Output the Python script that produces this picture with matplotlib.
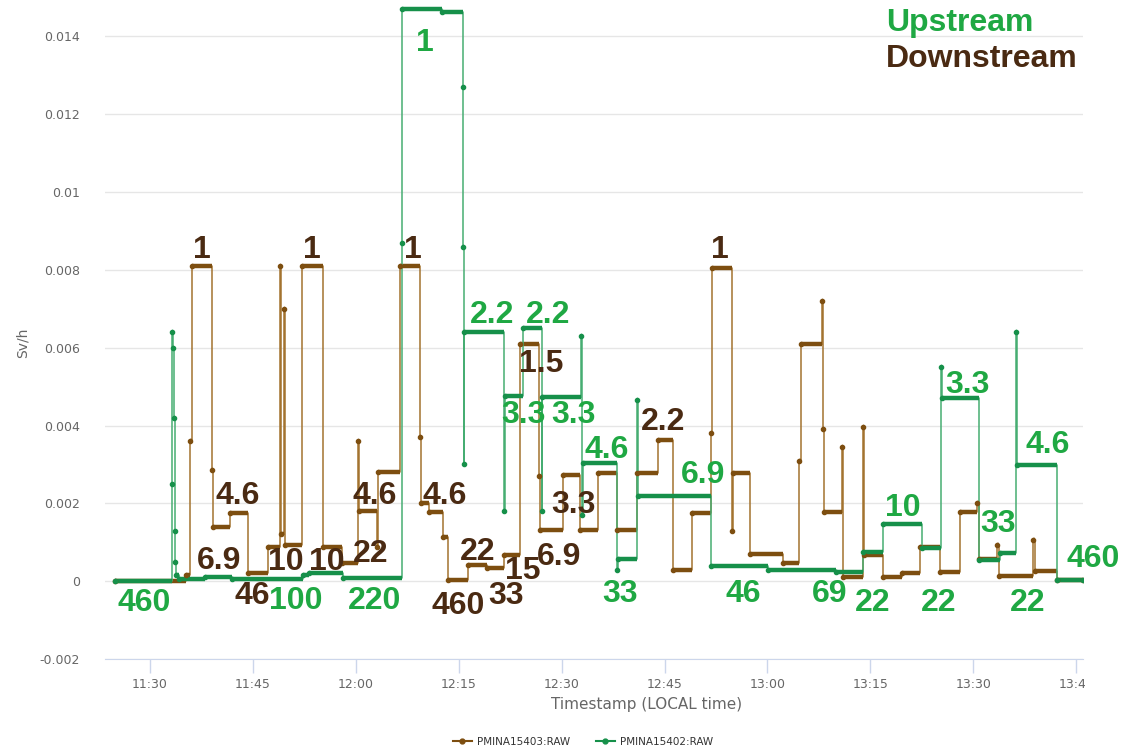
import pandas as pd
import matplotlib
matplotlib.use('Agg')
import matplotlib.pyplot as plt
import matplotlib.dates as mdates
from matplotlib.transforms import Bbox, TransformedBbox

# Time is kept as minutes after 11:30, values in Sv/h (step changes)
BASE = pd.Timestamp('2021-01-01 11:30')

down_min = [-5.1, 5.25, 5.9, 6.05, 9.04, 9.15, 11.66, 14.33, 17.25, 18.95, 19.1, 19.6, 19.75,
            22.16, 25.22, 27.95, 30.37, 30.5, 33.1, 33.2, 36.45, 39.36, 39.5, 40.6, 42.72, 43.45,
            46.36, 49.09, 51.61, 53.94, 56.76, 56.9, 60.26, 62.69, 65.36, 68.04, 70.96, 74.06,
            76.25, 79.02, 81.79, 81.95, 84.81, 84.95, 87.48, 92.33, 94.62, 94.9, 97.93, 98.1,
            98.3, 100.85, 101.0, 103.95, 104.1, 106.91, 109.64, 112.26, 115.18, 118.09, 120.6,
            120.9, 123.49, 123.7, 128.78, 128.95, 132.19, 136.03]
down_sv = [0.0, 0.00015, 0.0036, 0.0081, 0.00285, 0.0014, 0.00176, 0.00022, 0.00088, 0.0081,
           0.0012, 0.0070, 0.00093, 0.0081, 0.00088, 0.00047, 0.0036, 0.0018, 0.00087, 0.0028,
           0.0081, 0.0037, 0.0020, 0.00178, 0.00114, 0.00003, 0.00041, 0.00033, 0.00067, 0.0061,
           0.0027, 0.00131, 0.00272, 0.00131, 0.00278, 0.00131, 0.00278, 0.00362, 0.00028,
           0.00176, 0.0038, 0.00805, 0.0013, 0.00277, 0.00069, 0.00046, 0.0031, 0.0061, 0.0072,
           0.0039, 0.00178, 0.00345, 0.00011, 0.00397, 0.00067, 0.00011, 0.0002, 0.00088,
           0.00024, 0.00178, 0.0020, 0.00058, 0.00093, 0.00013, 0.00105, 0.00026, 0.00003,
           0.00003]

up_min = [-5.1, 3.2, 3.27, 3.4, 3.5, 3.58, 3.66, 3.8, 4.2, 8.0, 12.0, 22.3, 23.2, 28.1, 36.7,
          36.8, 42.5, 45.6, 45.65, 45.7, 45.8, 51.6, 51.7, 54.4, 57.1, 57.2, 62.8, 62.95,
          63.05, 68.1, 68.2, 71.0, 71.1, 81.75, 90.1, 100.0, 103.95, 106.9, 112.55, 115.3,
          115.45, 120.8, 123.9, 126.25, 126.4, 132.2, 136.0]
up_sv = [0.0, 0.0025, 0.0064, 0.006, 0.0042, 0.0013, 0.0005, 0.00015, 0.00006, 0.00011,
         0.00006, 0.00015, 0.00021, 0.00009, 0.0087, 0.0147, 0.01463, 0.0127, 0.0086,
         0.0030, 0.0064, 0.0018, 0.00476, 0.0065, 0.0018, 0.00474, 0.0063, 0.0017, 0.00303,
         0.00028, 0.00056, 0.00465, 0.0022, 0.0004, 0.00028, 0.00024, 0.00076, 0.00148,
         0.00085, 0.0055, 0.00472, 0.00054, 0.00072, 0.0064, 0.00298, 0.00003, 0.00003]

# dose-rate labels written on the chart: (text, minutes after 11:30, Sv/h)
down_labels = [('1', 7.6, 0.0085), ('1', 23.6, 0.0085), ('1', 38.3, 0.0085), ('1', 83.1, 0.0085),
               ('4.6', 12.8, 0.00218), ('6.9', 10.1, 0.00053), ('46', 14.9, -0.00039),
               ('10', 19.8, 0.00048), ('10', 25.8, 0.00048), ('22', 32.1, 0.00071),
               ('4.6', 32.8, 0.0022), ('4.6', 43.0, 0.00218), ('22', 47.8, 0.00074),
               ('460', 44.9, -0.00063), ('33', 51.9, -0.00039), ('15', 54.3, 0.00025),
               ('6.9', 59.7, 0.00063), ('3.3', 61.7, 0.00197), ('1.5', 57.0, 0.00557),
               ('2.2', 74.8, 0.0041)]
up_labels = [('460', -0.9, -0.00057), ('100', 21.2, -0.00052), ('220', 32.7, -0.00052),
             ('1', 40.1, 0.01382), ('2.2', 49.9, 0.00683), ('2.2', 58.0, 0.00683),
             ('3.3', 54.5, 0.00428), ('3.3', 61.8, 0.00428), ('4.6', 66.5, 0.00338),
             ('33', 68.5, -0.00032), ('6.9', 80.6, 0.00274), ('46', 86.5, -0.00034),
             ('69', 99.0, -0.00034), ('22', 105.3, -0.00057), ('10', 109.8, 0.00187),
             ('22', 114.9, -0.00057), ('3.3', 119.1, 0.00503), ('33', 123.6, 0.00148),
             ('4.6', 130.8, 0.00351), ('22', 128.0, -0.00057), ('460', 137.5, 0.00056)]

y_ticks = [-0.002, 0, 0.002, 0.004, 0.006, 0.008, 0.01, 0.012, 0.014]
y_tick_labels = ['-0.002', '0', '0.002', '0.004', '0.006', '0.008', '0.01', '0.012', '0.014']
x_tick_min = [0, 15, 30, 45, 60, 75, 90, 105, 120, 135]


def to_time(mins):
    return (BASE + pd.to_timedelta(mins, unit='min')).to_numpy()


fig = plt.figure(figsize=(11.44, 7.51), dpi=100)
ax = fig.add_axes([105 / 1144, 1 - 659 / 751, 978 / 1144, 659 / 751])

series = [
    ('PMINA15403:RAW', down_min, down_sv, '#a3732f', '#7d4e10'),
    ('PMINA15402:RAW', up_min, up_sv, '#46ad72', '#16904a'),
]
for name, mins, vals, thin_col, dark_col in series:
    t = to_time(mins)
    ax.plot(t, vals, drawstyle='steps-post', color=thin_col, lw=1.1, zorder=3)
    # the dense samples make every plateau look like a thick band
    ax.hlines(vals[:-1], t[:-1], t[1:], color=dark_col, lw=3.2, zorder=3)
    ax.plot(t, vals, 'o', color=dark_col, ms=3, zorder=4)
    ax.plot([], [], '-o', color=dark_col, lw=1.5, ms=3.5, label=name)

label_font = dict(fontsize=23, fontweight='bold', family='Liberation Sans')
for txt, m, v in down_labels:
    ax.text(to_time([m])[0], v, txt, color='#4a2a12', ha='center', va='center', zorder=5,
            **label_font)
for txt, m, v in up_labels:
    ax.text(to_time([m])[0], v, txt, color='#1fa843', ha='center', va='center', zorder=5,
            **label_font)

fig.text(886 / 1144, 1 - 23 / 751, 'Upstream', color='#1fa843', ha='left', va='center',
         **label_font)
fig.text(886 / 1144, 1 - 59 / 751, 'Downstream', color='#4a2a12', ha='left', va='center',
         **label_font)

ax.set_ylim(-0.002, 581 / 38900)
ax.set_xlim(to_time([-6.56])[0], to_time([136.0])[0])
ax.set_yticks(y_ticks)
ax.set_yticklabels(y_tick_labels)
ax.set_xticks(to_time(x_tick_min))
ax.xaxis.set_major_formatter(mdates.DateFormatter('%H:%M'))

ax.grid(axis='y', color='#e6e6e6', lw=1)
ax.set_axisbelow(True)
for side in ['top', 'right', 'left']:
    ax.spines[side].set_visible(False)
ax.spines['bottom'].set_color('#ccd6eb')
ax.tick_params(axis='y', length=0, pad=18, labelsize=9, labelcolor='#666666')
ax.tick_params(axis='x', length=10, width=1, color='#ccd6eb', pad=4, labelsize=9,
               labelcolor='#666666')

ax.set_ylabel('Sv/h', fontsize=10, color='#666666')
ax.yaxis.set_label_coords(-75 / 978, 0.48)
fig.text(647 / 1144, 1 - 704 / 751, 'Timestamp (LOCAL time)', fontsize=11, color='#666666',
         ha='center', va='center')

fig.legend(loc='center', bbox_to_anchor=(583 / 1144, 1 - 742 / 751), ncol=2, frameon=False,
           fontsize=7.5, handlelength=1.8, handletextpad=0.5, columnspacing=2.5,
           labelcolor='#333333')

# the screenshot is cut just right of the last tick, so clip its label the same way
clip = TransformedBbox(Bbox([[0, 0], [1085 / 1144, 1]]), fig.transFigure)
last = ax.xaxis.get_major_ticks()[-1].label1
last.set_clip_box(clip)
last.set_clip_on(True)

fig.savefig('out.png', dpi=100)
